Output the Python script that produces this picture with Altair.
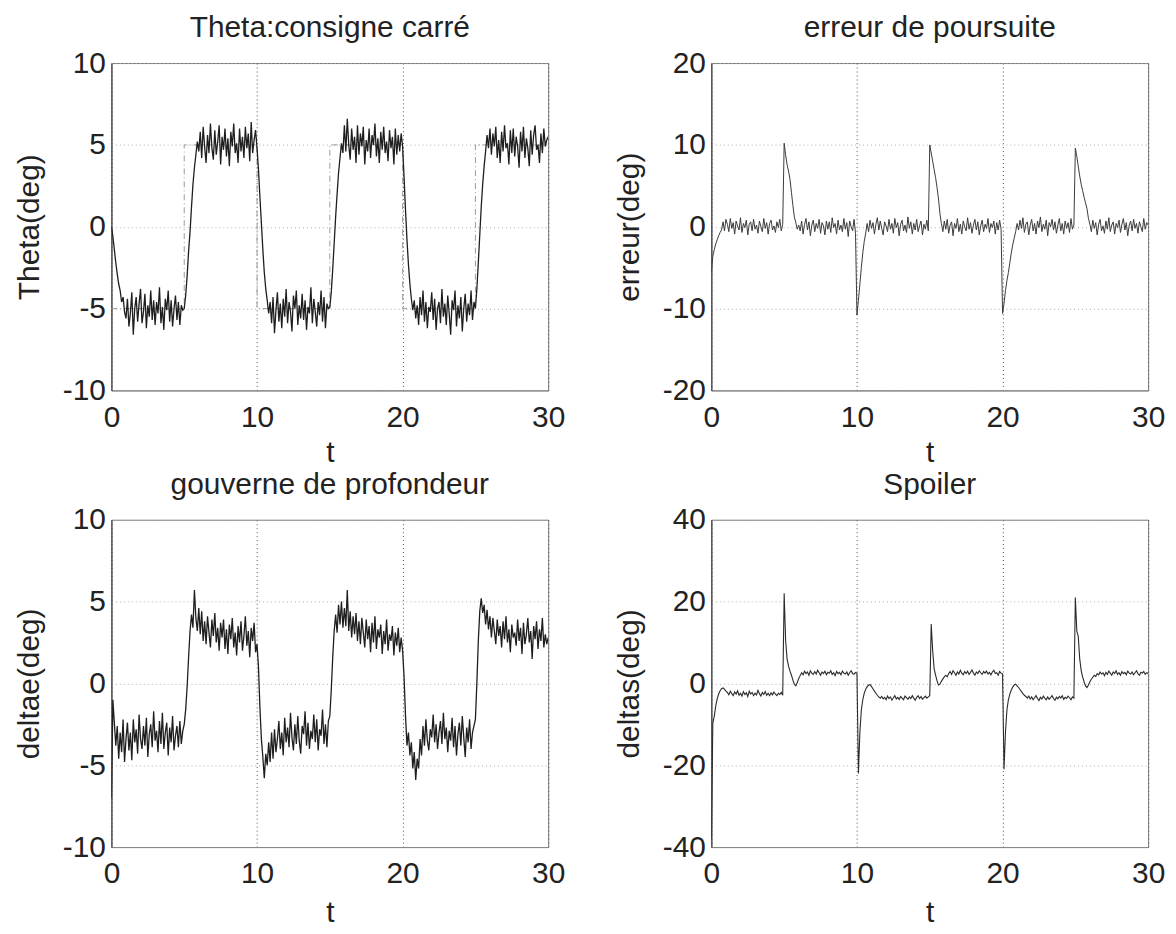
import altair as alt
import pandas as pd

FONT = "Liberation Sans"
FS = 30

# sample times (s)
T = [round(i * 0.1, 1) for i in range(301)]

# ---- Theta (deg) ----
THETA = [
    0.0, -0.6, -1.4, -2.2, -2.9, -3.5, -3.9, -4.6, -4.3, -5.2, -5.6,
    -4.4, -6.1, -5.3, -4.0, -6.6, -5.0, -4.3, -5.8, -4.7, -3.8,
    -5.9, -5.2, -4.1, -6.2, -4.8, -5.5, -3.9, -5.7, -4.5, -6.0,
    -4.6, -5.3, -3.7, -5.9, -4.9, -6.3, -4.4, -5.1, -3.9, -5.8,
    -4.5, -6.1, -5.0, -4.2, -5.7, -4.6, -6.0, -4.8, -5.1,
    -5.0,
    -4.2, -3.0, -1.5, -0.3, 1.2, 2.6, 3.6, 4.4, 5.2, 4.6,
    5.8, 4.2, 6.1, 4.9, 3.9, 5.6, 4.5, 6.3, 4.8, 4.1,
    5.9, 4.4, 5.2, 6.2, 3.8, 5.5, 4.7, 6.0, 4.3, 5.4,
    3.7, 5.8, 4.9, 6.3, 4.5, 5.1, 3.9, 6.0, 4.6, 5.5,
    4.2, 6.1, 4.8, 5.7, 4.0, 6.4, 4.5, 5.3, 5.9,
    4.8,
    3.5, 1.8, 0.2, -1.4, -2.8, -3.8, -4.5, -5.3, -4.6, -5.9,
    -4.3, -6.5, -5.1, -4.0, -5.8, -4.7, -6.2, -4.4, -5.5, -3.8,
    -5.9, -4.6, -5.2, -6.4, -4.2, -5.0, -3.9, -6.0, -4.8, -5.6,
    -4.1, -5.7, -4.5, -6.3, -4.9, -5.3, -3.7, -5.9, -4.4, -5.2,
    -6.1, -4.6, -5.4, -3.9, -5.8, -4.3, -6.2, -4.7, -5.0,
    -4.9,
    -4.0, -2.6, -1.0, 0.6, 2.0, 3.3, 4.2, 5.1, 4.5, 6.2,
    4.6, 6.6, 5.0, 4.1, 6.0, 4.7, 5.5, 3.9, 6.2, 4.4,
    5.7, 4.9, 6.1, 3.8, 5.3, 4.6, 6.0, 4.2, 5.6, 5.0,
    6.3, 4.3, 5.4, 3.9, 5.8, 4.7, 6.1, 4.5, 5.2, 4.0,
    5.9, 4.8, 5.5, 3.8, 6.0, 4.4, 5.6, 4.6, 5.7,
    4.9,
    3.0, 1.0, -0.8, -2.3, -3.5, -4.4, -5.1, -4.5, -5.6, -4.8,
    -6.0, -4.3, -5.4, -3.9, -5.8, -4.6, -6.2, -4.9, -5.2, -4.0,
    -5.7, -4.4, -6.3, -5.0, -4.6, -5.9, -3.8, -5.5, -4.7, -6.0,
    -4.2, -5.3, -6.6, -4.5, -5.1, -3.9, -6.1, -4.8, -5.6, -4.3,
    -6.4, -5.0, -4.1, -5.8, -4.7, -5.4, -3.9, -5.7, -4.6,
    -5.0,
    -3.8, -2.2, -0.5, 1.2, 2.6, 3.7, 4.6, 5.6, 4.8, 6.0,
    4.4, 5.7, 4.9, 6.1, 4.2, 5.3, 3.9, 5.8, 4.6, 6.2,
    4.8, 5.1, 3.8, 5.9, 4.5, 6.0, 4.3, 5.5, 4.9, 3.6,
    5.8, 4.6, 6.1, 4.2, 5.4, 4.8, 3.7, 5.9, 4.4, 5.6,
    6.2, 4.7, 5.0, 3.9, 5.7, 4.5, 6.0, 4.9, 5.3, 5.5,
]

# square set-point (consigne carrée)
REF_T = [0, 5, 5, 10, 10, 15, 15, 20, 20, 25, 25, 30]
REF_V = [-5, -5, 5, 5, -5, -5, 5, 5, -5, -5, 5, 5]

# ---- tracking error (deg) ----
ERREUR = [
    -5.5, -3.6, -2.8, -2.1, -1.6, -1.1, -0.7, -0.4, 0.6, -0.5, 0.9,
    0.3, -0.6, 1.0, -0.2, 0.5, -0.9, 0.7, 0.1, -0.4, 1.1,
    -0.7, 0.4, -0.1, 0.8, -1.0, 0.3, 0.6, -0.5, 0.9, -0.3,
    0.2, -0.8, 0.7, 0.0, -0.6, 1.0, -0.2, 0.5, -0.9, 0.4,
    0.8, -0.4, 0.1, -0.7, 0.6, -0.1, 0.9, -0.5, 0.3,
    10.2,
    8.8, 7.6, 6.8, 5.8, 4.2, 2.6, 1.2, 0.5, -0.3, 0.2,
    -0.5, 0.7, -0.9, 0.3, 1.0, -0.4, 0.6, -1.1, 0.2, 0.8,
    -0.6, 0.4, -0.2, 0.9, -0.8, 0.5, 0.1, -1.0, 0.7, -0.3,
    0.6, -0.7, 1.1, -0.1, 0.4, -0.9, 0.8, -0.4, 0.2, -0.6,
    1.0, -0.3, 0.5, -1.2, 0.7, 0.0, -0.5, 0.9, -0.8,
    -10.8,
    -9.0, -7.0, -5.0, -3.2, -1.8, -0.8, 0.4, -0.6, 0.8, -0.2,
    0.5, -0.9, 0.3, 1.1, -0.4, 0.7, -0.2, -1.0, 0.6, 0.1,
    -0.6, 0.9, -0.3, 0.4, -0.8, 1.0, -0.1, 0.5, -1.1, 0.3,
    0.8, -0.5, 0.2, -0.7, 1.2, -0.2, 0.6, -0.9, 0.4, -0.4,
    0.9, -0.6, 0.1, 0.7, -1.0, 0.3, -0.3, 0.8, -0.5,
    10.0,
    9.0, 8.0, 7.0, 6.0, 4.8, 3.4, 1.6, 0.4, -0.6, 0.7,
    -0.3, 0.9, -0.8, 0.2, 0.6, -1.1, 0.4, -0.2, 1.0, -0.6,
    0.3, -0.9, 0.7, 0.0, -0.5, 1.1, -0.3, 0.5, -0.8, 0.2,
    0.9, -0.4, 0.6, -1.0, 0.1, 0.8, -0.6, 0.3, -0.2, 1.0,
    -0.7, 0.4, -0.1, 0.7, -0.9, 0.5, -0.4, 0.8, -0.3,
    -10.6,
    -9.4, -7.8, -6.6, -5.6, -4.4, -3.2, -2.2, -1.4, -0.6, 0.4,
    -0.4, 0.8, -0.2, 1.1, -0.7, 0.3, 0.6, -1.0, 0.2, 0.9,
    -0.5, 0.4, -0.9, 0.7, -0.1, 1.2, -0.6, 0.3, -0.3, 0.8,
    -1.1, 0.5, 0.0, 0.9, -0.4, 0.6, -0.8, 0.2, 1.0, -0.5,
    0.4, -0.9, 0.7, -0.2, 0.5, -0.7, 1.0, -0.3, 0.2,
    9.6,
    8.6, 7.4, 6.2, 5.2, 4.4, 3.6, 2.9, 2.2, 1.0, 0.3,
    -0.6, 0.8, -0.2, 0.5, -1.0, 0.3, 0.9, -0.5, 0.1, -0.8,
    0.7, -0.3, 1.1, -0.6, 0.2, 0.6, -0.9, 0.4, -0.1, 0.8,
    -0.7, 0.3, 1.0, -0.4, 0.5, -1.1, 0.2, 0.7, -0.5, 0.9,
    -0.2, 0.4, -0.8, 0.6, 0.0, -0.6, 1.0, -0.3, 0.5, 0.2,
]

# ---- elevator deflection deltae (deg) ----
DELTAE = [
    -7.0, -1.0, -2.4, -3.8, -2.6, -4.6, -3.0, -4.2, -2.2, -4.8, -3.4,
    -2.4, -4.1, -3.0, -4.7, -2.2, -3.6, -2.8, -4.3, -1.9, -3.4,
    -4.0, -2.6, -3.8, -2.1, -4.5, -3.1, -2.5, -3.9, -1.7, -3.5,
    -2.9, -4.2, -2.3, -3.7, -1.8, -4.0, -3.0, -2.4, -4.4, -2.7,
    -3.6, -2.0, -4.1, -3.2, -2.6, -3.9, -2.3, -3.7, -2.9,
    -2.5,
    -1.6, -0.2, 1.6, 3.2, 4.2, 3.4, 5.7, 4.0, 3.2, 4.6,
    3.0, 4.4, 2.6, 3.8, 2.4, 4.1, 3.1, 2.2, 3.9, 2.9,
    4.3, 2.5, 3.4, 2.0, 3.7, 2.8, 3.9, 2.1, 3.3, 1.8,
    3.6, 2.7, 4.0, 2.2, 3.1, 1.7, 3.5, 2.5, 3.8, 2.0,
    2.9, 4.1, 2.3, 3.2, 1.6, 3.4, 2.6, 3.7, 1.9,
    2.4,
    1.0, -1.5, -3.4, -4.5, -5.8, -4.3, -5.0, -3.6, -4.8, -3.0,
    -4.6, -2.8, -4.2, -3.4, -2.3, -4.0, -3.0, -4.4, -2.1, -3.6,
    -2.7, -3.9, -1.8, -3.3, -4.1, -2.5, -3.7, -2.0, -3.5, -4.3,
    -2.6, -3.1, -1.7, -3.8, -2.4, -4.0, -2.9, -3.4, -1.9, -3.6,
    -2.2, -4.1, -2.8, -3.2, -1.6, -3.7, -2.5, -3.9, -2.3,
    -2.0,
    -0.4, 1.6, 3.2, 4.2, 3.1, 4.8, 3.6, 5.0, 3.4, 4.6,
    3.5, 5.7, 3.2, 4.4, 2.8, 4.1, 3.0, 4.3, 2.6, 3.8,
    2.4, 4.0, 3.1, 2.2, 3.9, 2.7, 3.5, 1.9, 3.7, 2.5,
    4.1, 2.1, 3.3, 2.8, 3.6, 1.8, 3.2, 2.4, 3.9, 2.0,
    3.0, 2.6, 3.5, 1.7, 3.1, 2.3, 3.4, 1.9, 2.8,
    2.0,
    0.4, -2.0, -3.8, -3.0, -4.4, -3.6, -5.2, -4.2, -5.9, -4.6,
    -5.2, -3.4, -4.4, -2.6, -3.8, -2.2, -3.5, -4.1, -2.8, -3.3,
    -1.9, -3.6, -2.5, -4.0, -3.0, -2.3, -3.7, -1.8, -3.4, -2.7,
    -4.2, -2.9, -3.5, -2.1, -3.9, -2.6, -4.4, -3.1, -2.4, -3.8,
    -2.0, -3.3, -4.5, -2.7, -3.6, -2.2, -4.0, -3.0, -2.6,
    -2.2,
    0.0, 2.6, 4.4, 5.2, 4.3, 4.8, 3.6, 4.5, 3.3, 4.1,
    2.8, 4.0, 3.2, 2.4, 3.9, 2.9, 3.5, 2.2, 3.8, 2.7,
    4.1, 2.5, 3.3, 1.9, 3.6, 2.8, 3.1, 2.3, 3.9, 2.6,
    3.4, 1.8, 3.7, 2.4, 3.0, 4.0, 2.5, 3.2, 1.5, 3.5,
    2.7, 3.8, 2.1, 3.3, 2.6, 4.0, 2.2, 3.0, 2.4, 2.8,
]

# ---- spoiler deflection deltas (deg) ----
DELTAS = [
    -38.0, -9.7, -8.0, -5.5, -3.8, -2.6, -1.8, -1.3, -1.1, -1.4, -1.9,
    -2.2, -2.8, -1.9, -2.5, -3.0, -2.1, -2.6, -1.8, -2.9, -2.4,
    -3.1, -2.0, -2.7, -2.3, -3.2, -1.9, -2.6, -2.2, -3.0, -2.4,
    -2.8, -1.7, -2.5, -3.1, -2.2, -2.7, -2.0, -2.9, -2.4, -3.0,
    -2.3, -2.8, -2.1, -2.6, -3.0, -2.4, -2.7, -2.2, -2.9,
    22.0,
    10.5, 6.0, 4.2, 3.0, 2.0, 0.8, -0.2, -0.6, 0.2, 1.2,
    1.9, 2.6, 2.1, 3.0, 2.4, 2.8, 2.0, 3.1, 2.5, 2.2,
    2.9, 2.3, 3.2, 2.6, 2.0, 2.8, 2.4, 3.0, 2.1, 2.7,
    2.5, 3.1, 2.2, 2.6, 1.9, 2.9, 2.4, 2.7, 2.1, 3.0,
    2.5, 2.3, 2.8, 2.0, 2.6, 3.1, 2.4, 2.2, 2.7,
    2.5,
    -22.0, -12.0, -6.5, -4.0, -2.4, -1.4, -0.8, -0.4, -0.3, -0.8,
    -1.3, -1.9, -2.4, -2.9, -3.3, -3.6, -3.2, -3.8, -3.4, -4.0,
    -3.1, -3.7, -3.3, -4.1, -3.5, -3.0, -3.8, -3.4, -3.9, -3.2,
    -3.6, -4.0, -3.1, -3.5, -3.9, -3.3, -3.7, -3.0, -3.6, -4.1,
    -3.4, -3.0, -3.7, -3.2, -3.9, -3.5, -3.1, -3.6, -3.3,
    -3.0,
    14.5, 8.0, 3.6, 2.0, 0.6, -0.4, -0.2, 0.5, 1.1, 1.6,
    2.0, 1.6, 2.4, 2.9, 2.2, 3.1, 2.6, 2.0, 2.8, 2.3,
    3.2, 2.5, 2.1, 2.9, 2.4, 3.0, 2.2, 2.7, 3.3, 2.5,
    2.0, 2.8, 2.4, 3.1, 2.6, 2.2, 2.9, 2.5, 3.0, 2.3,
    2.7, 2.1, 2.8, 3.2, 2.4, 2.6, 2.0, 2.9, 2.5,
    2.3,
    -21.0, -12.0, -6.5, -4.0, -2.6, -1.6, -0.9, -0.4, -0.2, -0.6,
    -1.0, -1.5, -2.0, -2.5, -2.9, -3.2, -3.6, -3.1, -3.8, -3.3,
    -4.0, -3.5, -3.0, -3.7, -4.2, -3.4, -3.8, -3.1, -3.6, -4.0,
    -3.3, -3.9, -3.5, -3.0, -3.7, -4.1, -3.4, -3.8, -3.2, -3.6,
    -3.0, -3.9, -3.4, -3.7, -3.1, -3.5, -4.0, -3.3, -3.6,
    21.0,
    12.8, 11.5, 6.0, 3.2, 1.6, 0.4, -0.6, -1.0, -0.4, 0.4,
    1.0, 1.5, 2.0, 1.7, 2.4, 2.1, 2.8, 2.3, 2.6, 1.9,
    2.7, 2.2, 3.0, 2.5, 2.0, 2.8, 2.4, 3.1, 2.2, 2.6,
    2.0, 2.9, 2.4, 2.7, 2.1, 3.0, 2.5, 2.3, 2.8, 2.1,
    2.6, 3.1, 2.4, 2.0, 2.7, 2.5, 2.9, 2.2, 2.6, 2.4,
]

for name, arr in [("THETA", THETA), ("ERREUR", ERREUR), ("DELTAE", DELTAE), ("DELTAS", DELTAS)]:
    assert len(arr) == len(T), (name, len(arr))

X_TICKS = [0, 10, 20, 30]
W, H = 439, 329
LABEL_EXPR = "'' + datum.value"


def x_enc(title_y):
    return alt.X(
        "t:Q",
        scale=alt.Scale(domain=[0, 30], nice=False, zero=False),
        axis=alt.Axis(
            values=X_TICKS, title="t", labelFlush=False, ticks=False, tickSize=0,
            labelPadding=12, grid=True, gridColor="#555", gridDash=[1, 3], gridWidth=1,
            domainColor="#888", labelFontSize=FS, titleFontSize=FS, labelFont=FONT,
            titleFont=FONT, titleFontWeight="normal", titleX=W / 2, titleY=title_y,
            titleAlign="center", titleBaseline="middle", labelColor="#222", titleColor="#222",
            labelExpr=LABEL_EXPR,
        ),
    )


def y_enc(title, dom, ticks):
    return alt.Y(
        "v:Q",
        scale=alt.Scale(domain=dom, nice=False, zero=False),
        axis=alt.Axis(
            values=ticks, title=title, ticks=False, tickSize=0, labelPadding=6,
            grid=True, gridColor="#aaa", gridDash=[1, 3], gridWidth=1, domainColor="#333",
            labelFontSize=FS, titleFontSize=FS, labelFont=FONT, titleFont=FONT,
            titleFontWeight="normal", titleX=-82, titleY=H / 2, titleAlign="center",
            titleBaseline="middle", labelColor="#222", titleColor="#222",
            labelExpr=LABEL_EXPR,
        ),
    )


def title_params(text, offset):
    return alt.TitleParams(text, fontSize=FS, font=FONT, fontWeight="normal",
                           color="#222", offset=offset, anchor="middle")


def panel(values, title, ytitle, dom, ticks, color, width, xt_y, t_off, ref=None):
    df = pd.DataFrame({"t": T, "v": values})
    line = alt.Chart(df).mark_line(color=color, strokeWidth=width, clip=True).encode(
        x=x_enc(xt_y), y=y_enc(ytitle, dom, ticks)
    )
    if ref is not None:
        rdf = pd.DataFrame({"t": REF_T, "v": REF_V, "k": list(range(len(REF_T)))})
        rline = alt.Chart(rdf).mark_line(color="#9a9a9a", strokeWidth=1, strokeDash=[6, 3, 1, 3]).encode(
            x=x_enc(xt_y), y=y_enc(ytitle, dom, ticks), order="k:Q"
        )
        ch = alt.layer(rline, line)
    else:
        ch = line
    return ch.properties(width=W, height=H, title=title_params(title, t_off))


p1 = panel(THETA, "Theta:consigne carré", "Theta(deg)", [-10, 10], [-10, -5, 0, 5, 10],
           "#1e1e1e", 1.3, 62, 5, ref=True)
p2 = panel(ERREUR, "erreur de poursuite", "erreur(deg)", [-20, 20], [-20, -10, 0, 10, 20],
           "#3a3a3a", 1.0, 62, 5)
p3 = panel(DELTAE, "gouverne de profondeur", "deltae(deg)", [-10, 10], [-10, -5, 0, 5, 10],
           "#1e1e1e", 1.3, 66, 5)
p4 = panel(DELTAS, "Spoiler", "deltas(deg)", [-40, 40], [-40, -20, 0, 20, 40],
           "#2a2a2a", 1.1, 66, 5)

chart = (
    alt.concat(p1, p2, p3, p4, columns=2, spacing={"row": 130, "column": 164}, bounds="flush")
    .properties(padding={"left": 14, "top": 10, "right": 10, "bottom": 4}, background="white")
    .configure_view(stroke="#777", strokeWidth=1)
)

chart.save("out.html", embed_options={"renderer": "svg", "actions": False})
